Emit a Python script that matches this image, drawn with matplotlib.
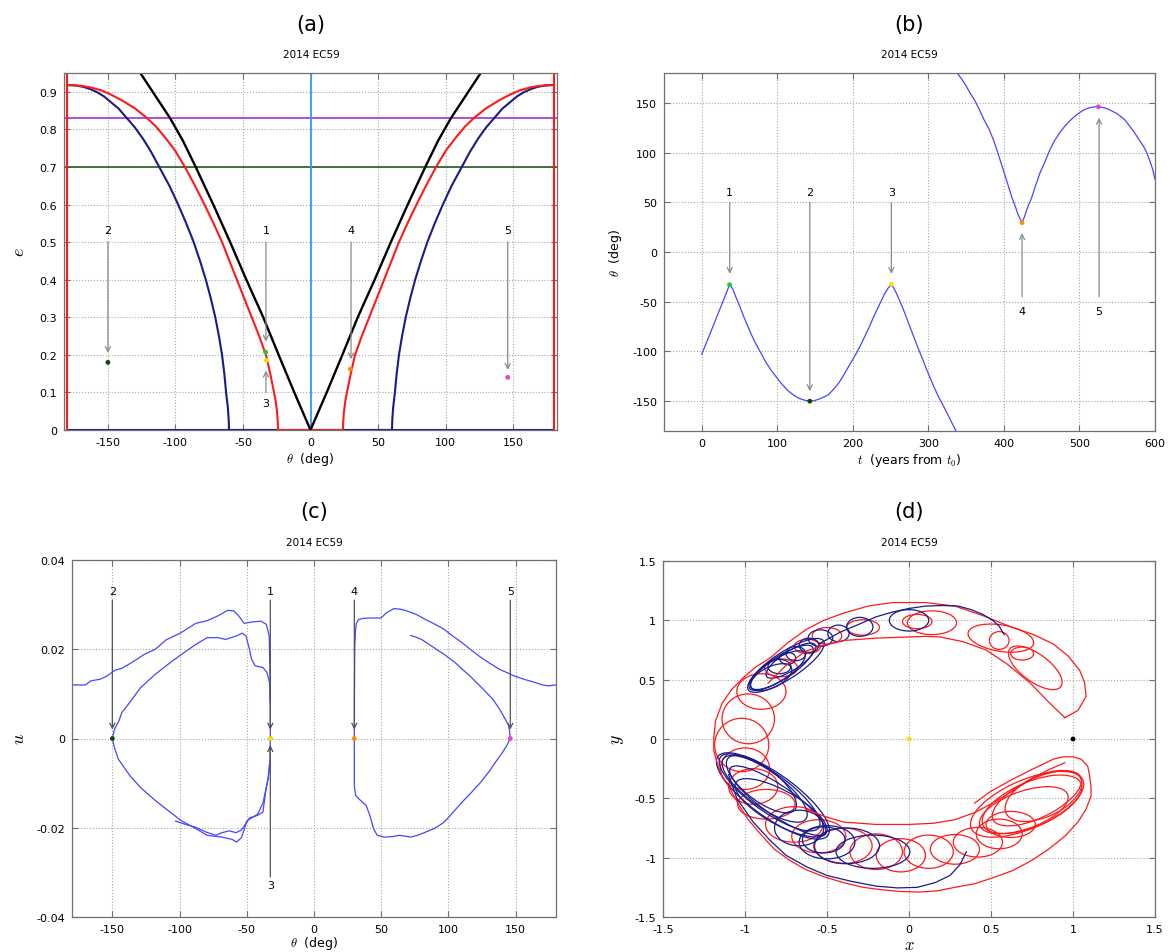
import numpy as np
import matplotlib.pyplot as plt
from matplotlib.patches import Ellipse

plt.rcParams['font.family'] = 'DejaVu Sans'
plt.rcParams['mathtext.fontset'] = 'cm'
plt.rcParams['axes.unicode_minus'] = False

# ---------------- panel (a): e vs theta (one branch, mirrored) ----------------
a_blue_th = [60.3, 60.6, 61.2, 62.5, 63.8, 65.5, 67.8, 70.5, 73.8, 77.5, 81.8, 86.5, 92, 98,
             104.5, 112, 118, 124, 130, 136, 142, 148, 153, 158, 163, 168, 174, 180]
a_blue_e = [0.0, 0.03, 0.06, 0.1, 0.15, 0.2, 0.25, 0.3, 0.35, 0.4, 0.45, 0.5, 0.55, 0.6, 0.65,
            0.7, 0.74, 0.775, 0.805, 0.83, 0.855, 0.873, 0.888, 0.899, 0.907, 0.913, 0.917, 0.918]
a_red_th = [24, 24.2, 24.8, 25.7, 27, 29.8, 33, 38, 43.5, 49, 54.5, 60, 65.5, 71.8, 78.5, 85.5,
            93, 100.5, 108, 114.5, 121, 130, 140, 148, 155, 162, 168, 174, 180]
a_red_e = [0.0, 0.02, 0.05, 0.075, 0.1, 0.15, 0.2, 0.25, 0.3, 0.35, 0.4, 0.45, 0.5, 0.55, 0.6,
           0.65, 0.7, 0.745, 0.78, 0.808, 0.83, 0.856, 0.878, 0.893, 0.904, 0.911, 0.915, 0.917,
           0.918]
a_black_th = [0, 12, 23.6, 35, 47.5, 59.5, 72, 85, 94.5, 104, 115, 126]
a_black_e = [0.0, 0.1, 0.2, 0.3, 0.4, 0.5, 0.6, 0.7, 0.77, 0.83, 0.89, 0.95]
a_hlines = [0.83, 0.70]

pt_labels = ['1', '2', '3', '4', '5']
pt_colors = ['#22cc22', '#0a4a0a', '#f5e000', '#ff8c00', '#ee44cc']
a_pts_th = [-33.2, -150, -32.7, 29.5, 146]
a_pts_e = [0.207, 0.18, 0.185, 0.162, 0.14]

# ---------------- panel (b): theta vs t ----------------
b_t1 = [0, 10, 20, 30, 36.8, 41, 45, 50, 55, 60, 65, 70, 75, 80, 85, 91, 98, 104, 110, 115, 120,
        125, 130, 136, 142.6, 149, 155, 161, 167.5, 172, 177, 182, 187, 193, 200, 206, 212, 217,
        222, 227, 232, 237, 242, 247, 251, 254, 258, 262, 267, 272, 277, 282, 287, 292, 297, 302,
        307, 313, 320, 328, 336.5]
b_th1 = [-102.7, -84, -65, -46, -32.9, -37, -45, -54, -64, -73, -82, -90, -97, -104, -111, -118,
         -125, -131, -136, -140, -143, -145.5, -147.5, -149, -150, -149.5, -148, -146, -143.6,
         -140, -136, -131, -125, -117, -108, -100, -91, -83, -75, -66, -58, -50, -42, -36, -32.5,
         -36, -42, -49, -58, -68, -78, -88, -98, -107, -117, -126, -135, -145, -155, -167, -180]
b_t2 = [338, 344, 350, 355, 361, 367, 373, 380, 386, 391, 396, 401, 406, 410, 415, 419, 424, 427,
        430, 433, 436, 442, 448, 455, 461, 467, 474, 480, 486, 493, 500, 506, 513, 520, 526, 533,
        540, 545, 550, 555, 560, 566, 572, 578, 585, 589, 593, 597, 600]
b_th2 = [180, 174, 167, 160, 153, 144, 134, 124, 113, 102, 90, 78, 66, 56, 46, 37, 29.5, 35, 42,
         48, 53, 67, 80, 92, 103, 112, 120, 126, 131, 136, 140, 143, 145, 146, 146, 145, 143, 141,
         139, 136, 133, 127, 121, 114, 106, 100, 92, 83, 73]
b_pts_t = [36.8, 143, 251, 424, 525]
b_pts_th = [-32.9, -150, -32.5, 29.5, 146]

# ---------------- panel (c): u vs theta ----------------
c_segs = [
    ([-180, -170, -166, -159, -154, -148, -143, -134.6, -126, -118, -110, -99, -88, -79.5, -71.3,
      -64.4, -59.7, -56, -52, -46.5, -39.6, -35.5, -33.3, -32.8, -32.5, -32.5],
     [0.012, 0.012, 0.0129, 0.0133, 0.014, 0.0153, 0.0157, 0.0172, 0.0189, 0.02, 0.0221, 0.0237,
      0.0258, 0.0264, 0.0275, 0.0287, 0.0286, 0.0275, 0.0258, 0.0261, 0.0263, 0.0256, 0.023,
      0.0155, 0.008, 0.0]),
    ([-150, -148.4, -145, -143, -137, -129, -118, -107, -96, -87.8, -79.5, -71.3, -65.8, -57.5,
      -53.4, -50.6, -48, -46.5, -43.8, -38, -35, -33, -32.6],
     [0.0, 0.0021, 0.004, 0.0058, 0.0081, 0.0114, 0.0144, 0.017, 0.0194, 0.0211, 0.0226, 0.0226,
      0.0222, 0.023, 0.0236, 0.023, 0.02, 0.0178, 0.0163, 0.0159, 0.0148, 0.0125, 0.008]),
    ([-150, -148.5, -145.6, -137, -129, -118, -107, -98.8, -87.8, -79.5, -68.5, -61, -57.5, -54,
      -52, -50, -46, -42, -38, -36, -34, -32.8, -32.5],
     [0.0, -0.002, -0.0046, -0.0083, -0.011, -0.0139, -0.0165, -0.0184, -0.0202, -0.0217, -0.0221,
      -0.0226, -0.0232, -0.0222, -0.0205, -0.0185, -0.0177, -0.0172, -0.0165, -0.012, -0.0085,
      -0.005, 0.0]),
    ([-103, -96, -88, -80, -73, -68.5, -63, -58, -54, -51, -48, -45, -42, -38, -35.5, -34, -33],
     [-0.0185, -0.0192, -0.0199, -0.021, -0.0217, -0.0211, -0.0207, -0.0211, -0.0205, -0.0192,
      -0.0178, -0.0175, -0.017, -0.0145, -0.011, -0.009, -0.006]),
    ([30, 30.1, 30.3, 30.8, 31.5, 33, 36, 41.6, 49.8, 54, 59.4, 64, 69, 76, 82.8, 90, 96.6, 103,
      110, 117, 124, 131, 138, 144, 149, 157, 164, 170, 174, 180],
     [0.0, 0.01, 0.02, 0.024, 0.0258, 0.0266, 0.0269, 0.027, 0.027, 0.0282, 0.0291, 0.029,
      0.0286, 0.0278, 0.0267, 0.0256, 0.0245, 0.023, 0.0215, 0.0198, 0.0182, 0.0168, 0.0155,
      0.0147, 0.014, 0.0132, 0.0126, 0.012, 0.0118, 0.012]),
    ([30, 30, 31, 34.7, 38.8, 41.6, 44.3, 47, 52.6, 58, 63.6, 68, 71.8, 77, 82.8, 90, 96.6, 103,
      110, 117, 124, 130, 135, 140, 143.4, 146],
     [0.0, -0.0106, -0.0128, -0.0139, -0.015, -0.0173, -0.0202, -0.0217, -0.0221, -0.022,
      -0.0217, -0.0219, -0.0221, -0.0217, -0.021, -0.0201, -0.0188, -0.0167, -0.0143, -0.0121,
      -0.0098, -0.0075, -0.0053, -0.0032, -0.0016, 0.0]),
    ([146, 145.5, 144.8, 141, 138, 133, 127, 121, 116, 110, 105, 98, 91, 85, 80, 76, 72],
     [0.0, 0.0015, 0.0029, 0.005, 0.0066, 0.0088, 0.0107, 0.0125, 0.014, 0.0156, 0.017, 0.0186,
      0.02, 0.0212, 0.0222, 0.0227, 0.0231]),
]
c_pts_th = [-32.5, -150, -32.5, 30, 146]

# ---------------- panel (d): x vs y (rotating frame) ----------------
# loops: centre x, centre y, width, height, tilt (deg)
d_navy_loops = [
    (0.0, 1.0, 0.24, 0.18, 0), (-0.30, 0.945, 0.16, 0.16, 0), (-0.43, 0.89, 0.13, 0.14, 0),
    (-0.54, 0.85, 0.15, 0.14, 0), (-0.61, 0.79, 0.12, 0.12, 0), (-0.69, 0.72, 0.12, 0.12, 0),
    (-0.74, 0.68, 0.10, 0.10, 0), (-0.79, 0.61, 0.14, 0.12, 0),
    (-0.75, 0.62, 0.62, 0.20, 44), (-0.78, 0.60, 0.52, 0.17, 44), (-0.80, 0.58, 0.44, 0.16, 44),
    (-0.72, 0.66, 0.40, 0.14, 44), (-0.84, 0.52, 0.30, 0.16, 40),
    (-0.83, -0.48, 0.95, 0.32, -47), (-0.85, -0.45, 0.85, 0.28, -47), (-0.88, -0.42, 0.72, 0.26, -48),
    (-0.90, -0.38, 0.60, 0.24, -50), (-0.80, -0.52, 0.80, 0.22, -45), (-0.78, -0.58, 0.70, 0.26, -40),
    (-0.67, -0.75, 0.30, 0.30, 0), (-0.50, -0.87, 0.34, 0.28, 0), (-0.52, -0.85, 0.26, 0.22, 0),
    (-0.38, -0.90, 0.40, 0.30, 0), (-0.22, -0.95, 0.45, 0.28, 0),
]
d_red_loops = [
    (0.05, 0.99, 0.18, 0.12, 0), (0.14, 0.98, 0.30, 0.20, 0), (0.56, 0.85, 0.41, 0.22, -15),
    (0.55, 0.83, 0.12, 0.15, 0), (0.69, 0.72, 0.14, 0.11, 0), (0.77, 0.60, 0.45, 0.20, -50),
    (-0.78, 0.60, 0.20, 0.15, 0), (-0.50, 0.87, 0.18, 0.14, 0), (-0.28, 0.94, 0.20, 0.13, 0),
    (-0.62, 0.78, 0.16, 0.12, 0),
    (-0.90, 0.40, 0.30, 0.30, 0), (-0.98, 0.17, 0.32, 0.42, 0), (-1.02, -0.05, 0.33, 0.45, 0),
    (-1.00, -0.25, 0.30, 0.35, 0), (-0.95, -0.40, 0.30, 0.30, 0), (-0.87, -0.55, 0.35, 0.25, 0),
    (-0.70, -0.72, 0.35, 0.30, 0), (-0.55, -0.82, 0.33, 0.28, 0), (-0.40, -0.90, 0.35, 0.30, 0),
    (-0.20, -0.95, 0.32, 0.30, 0), (-0.05, -0.98, 0.30, 0.28, 0), (0.12, -0.95, 0.30, 0.28, 0),
    (0.28, -0.93, 0.30, 0.25, 0), (0.42, -0.87, 0.30, 0.25, 0), (0.55, -0.80, 0.28, 0.25, 0),
    (0.62, -0.72, 0.30, 0.22, 0),
    (0.72, -0.55, 0.80, 0.38, 35), (0.75, -0.55, 0.70, 0.35, 35), (0.78, -0.50, 0.65, 0.30, 38),
    (0.70, -0.60, 0.60, 0.30, 30), (0.82, -0.48, 0.55, 0.32, 40),
]
d_red_outer_x = [0.95, 1.03, 1.08, 1.07, 1.04, 0.97, 0.88, 0.76, 0.63, 0.45, 0.28, 0.1, -0.1,
                 -0.25, -0.4, -0.52, -0.63, -0.74, -0.84, -0.93, -1.0, -1.08, -1.14, -1.18, -1.19,
                 -1.19, -1.17, -1.14, -1.09, -1.04, -0.98, -0.9, -0.82, -0.73, -0.63, -0.52, -0.4,
                 -0.28, -0.17, -0.05, 0.06, 0.17, 0.28, 0.4, 0.51, 0.63, 0.74, 0.85, 0.95, 1.03,
                 1.08, 1.11, 1.11, 1.1, 1.09, 1.05, 1.0, 0.94, 0.88, 0.76, 0.63, 0.5, 0.4]
d_red_outer_y = [0.18, 0.24, 0.36, 0.48, 0.58, 0.7, 0.8, 0.88, 0.94, 1.04, 1.12, 1.15, 1.15, 1.12,
                 1.06, 1.0, 0.92, 0.81, 0.69, 0.61, 0.53, 0.42, 0.3, 0.15, 0.02, -0.1, -0.2,
                 -0.31, -0.42, -0.55, -0.68, -0.81, -0.93, -1.02, -1.1, -1.16, -1.21, -1.25,
                 -1.27, -1.285, -1.29, -1.28, -1.25, -1.22, -1.17, -1.11, -1.03, -0.93, -0.82,
                 -0.7, -0.59, -0.48, -0.4, -0.3, -0.23, -0.17, -0.15, -0.15, -0.17, -0.25, -0.34,
                 -0.44, -0.54]
d_red_inner_x = [0.95, 0.86, 0.74, 0.6, 0.47, 0.33, 0.19, 0.1, 0.0, -0.2, -0.4, -0.52, -0.63,
                 -0.75, -0.86]
d_red_inner_y = [0.18, 0.3, 0.47, 0.63, 0.75, 0.82, 0.86, 0.865, 0.86, 0.85, 0.83, 0.79, 0.74,
                 0.62, 0.47]
d_red_low_x = [-0.63, -0.52, -0.4, -0.2, 0.0, 0.15, 0.28, 0.4, 0.51, 0.63, 0.74, 0.85, 0.95]
d_red_low_y = [-0.59, -0.65, -0.7, -0.72, -0.72, -0.71, -0.68, -0.62, -0.54, -0.44, -0.34,
               -0.26, -0.2]
d_navy_top_x = [-0.55, -0.42, -0.3, -0.2, -0.1, 0.0, 0.1, 0.2, 0.3, 0.38, 0.45, 0.51, 0.55, 0.58]
d_navy_top_y = [0.8, 0.9, 0.97, 1.03, 1.07, 1.1, 1.12, 1.125, 1.12, 1.09, 1.05, 1.0, 0.95, 0.88]
d_navy_bot_x = [-1.1, -1.05, -0.95, -0.85, -0.75, -0.62, -0.5, -0.35, -0.2, -0.07, 0.05, 0.16,
                0.25, 0.31, 0.35]
d_navy_bot_y = [-0.3, -0.5, -0.7, -0.85, -0.98, -1.08, -1.15, -1.2, -1.24, -1.255, -1.25, -1.21,
                -1.15, -1.06, -0.95]

NAVY = '#1a1a8c'
RED = '#ff1a1a'
LBLUE = '#4646ff'

fig = plt.figure(figsize=(11.69, 9.53), dpi=100)
W, H = 1169.0, 953.0


def make_ax(l, r, t, b):
    ax = fig.add_axes([l / W, 1 - b / H, (r - l) / W, (b - t) / H])
    ax.grid(True, linestyle=':', color='#a8a8a8', lw=0.8)
    ax.set_axisbelow(True)
    ax.tick_params(direction='in', top=True, right=True, length=4, width=0.8,
                   color='#707070', labelsize=8, pad=5)
    for s in ax.spines.values():
        s.set_color('#707070')
        s.set_linewidth(0.9)
    return ax


def arrow(ax, x, y0, y1, col='#8a8a8a'):
    ax.annotate('', xy=(x, y1), xytext=(x, y0),
                arrowprops=dict(arrowstyle='->', color=col, lw=0.9, shrinkA=0, shrinkB=0,
                                mutation_scale=9))


for lab, cx, ty in [('(a)', 311, 25), ('(b)', 909, 25), ('(c)', 314, 512), ('(d)', 909, 512)]:
    fig.text(cx / W, 1 - ty / H, lab, ha='center', va='center', fontsize=15)
for cx, ty in [(311, 55), (909, 55), (314, 543), (909, 543)]:
    fig.text(cx / W, 1 - ty / H, '2014 EC59', ha='center', va='center', fontsize=7.5)

# ---- (a)
ax = make_ax(64, 557, 74, 431)
for h, c in zip(a_hlines, ['#9933dd', '#1e5e1e']):
    ax.axhline(h, color=c, lw=1.2)
ax.axvline(0, color='#3399ff', lw=1.3)
ax.plot([-180, 180], [0, 0], color=NAVY, lw=1.5)
bt = np.array(a_blue_th)
ax.plot(np.concatenate([-bt[::-1], bt]), np.concatenate([a_blue_e[::-1], a_blue_e]), color=NAVY, lw=1.5)
rt = np.array(a_red_th)
ax.plot(-rt, a_red_e, color=RED, lw=1.5)
ax.plot(rt, a_red_e, color=RED, lw=1.5)
ax.plot([-24, 24], [0, 0], color=RED, lw=1.5)
ax.plot([-180, -180], [0, 0.95], color=RED, lw=1.5)
ax.plot([180, 180], [0, 0.95], color=RED, lw=1.5)
kt = np.array(a_black_th)
ax.plot(np.concatenate([-kt[::-1], kt]), np.concatenate([a_black_e[::-1], a_black_e]), color='black', lw=1.7)
ax.scatter(a_pts_th, a_pts_e, s=12, c=pt_colors, zorder=5, linewidths=0)
for lab, x, y0, y1, ty in [('2', -150, 0.50, 0.205, 0.532), ('1', -33, 0.50, 0.235, 0.532),
                           ('4', 30, 0.50, 0.188, 0.532), ('5', 146, 0.50, 0.16, 0.532),
                           ('3', -33, 0.10, 0.158, 0.072)]:
    arrow(ax, x, y0, y1)
    ax.text(x, ty, lab, ha='center', va='center', fontsize=8)
ax.set_xlim(-182.5, 182.5)
ax.set_ylim(0, 0.95)
ax.set_xticks([-150, -100, -50, 0, 50, 100, 150])
ax.set_xticklabels(['-150', '-100', '-50', '0', '50', '100', '150'])
ax.set_yticks(np.arange(0, 0.95, 0.1))
ax.set_yticklabels(['0'] + ['%.1f' % v for v in np.arange(0.1, 0.95, 0.1)])
ax.set_xlabel(r'$\theta$  (deg)', fontsize=9, labelpad=2)
ax.set_ylabel(r'$e$', fontsize=13, labelpad=8)

# ---- (b)
ax = make_ax(664, 1155, 74, 432)
ax.plot(b_t1, b_th1, color=LBLUE, lw=0.9)
ax.plot(b_t2, b_th2, color=LBLUE, lw=0.9)
ax.scatter(b_pts_t, b_pts_th, s=12, c=pt_colors, zorder=5, linewidths=0)
for lab, x, y0, y1, ty in [('1', 37, 50, -22, 60), ('2', 143, 50, -140, 60), ('3', 251, 50, -22, 60),
                           ('4', 424, -45, 19, -59), ('5', 526, -45, 135, -59)]:
    arrow(ax, x, y0, y1)
    ax.text(x, ty, lab, ha='center', va='center', fontsize=8)
ax.set_xlim(-50, 600)
ax.set_ylim(-180, 180)
ax.set_xticks(range(0, 601, 100))
ax.set_yticks(range(-150, 151, 50))
ax.set_yticklabels([str(v) for v in range(-150, 151, 50)])
ax.set_xlabel(r'$t$  (years from $t_0$)', fontsize=9, labelpad=2)
ax.set_ylabel(r'$\theta$  (deg)', fontsize=9, labelpad=6)

# ---- (c)
ax = make_ax(72, 556, 561, 918)
for th, u in c_segs:
    ax.plot(th, u, color=LBLUE, lw=0.9)
ax.scatter(c_pts_th, [0] * 5, s=12, c=pt_colors, zorder=5, linewidths=0)
for lab, x in [('2', -150), ('1', -32.5), ('4', 30), ('5', 146)]:
    arrow(ax, x, 0.031, 0.002, col='#505050')
    ax.text(x, 0.033, lab, ha='center', va='center', fontsize=8)
arrow(ax, -32.5, -0.031, -0.0015, col='#505050')
ax.text(-32.5, -0.0328, '3', ha='center', va='center', fontsize=8)
ax.set_xlim(-180, 180)
ax.set_ylim(-0.04, 0.04)
ax.set_xticks([-150, -100, -50, 0, 50, 100, 150])
ax.set_xticklabels(['-150', '-100', '-50', '0', '50', '100', '150'])
ax.set_yticks([-0.04, -0.02, 0, 0.02, 0.04])
ax.set_yticklabels(['-0.04', '-0.02', '0', '0.02', '0.04'])
ax.set_xlabel(r'$\theta$  (deg)', fontsize=9, labelpad=0)
ax.set_ylabel(r'$u$', fontsize=13, labelpad=6)

# ---- (d)
ax = make_ax(663, 1155, 562, 918)
for cx, cy, w, h, a in d_red_loops:
    ax.add_patch(Ellipse((cx, cy), w, h, angle=a, fill=False, ec=RED, lw=0.9))
ax.plot(d_red_outer_x, d_red_outer_y, color=RED, lw=0.9)
ax.plot(d_red_inner_x, d_red_inner_y, color=RED, lw=0.9)
ax.plot(d_red_low_x, d_red_low_y, color=RED, lw=0.9)
for cx, cy, w, h, a in d_navy_loops:
    ax.add_patch(Ellipse((cx, cy), w, h, angle=a, fill=False, ec=NAVY, lw=0.9))
ax.plot(d_navy_top_x, d_navy_top_y, color=NAVY, lw=0.9)
ax.plot(d_navy_bot_x, d_navy_bot_y, color=NAVY, lw=0.9)
ax.scatter([0, 1], [0, 0], s=12, c=['#f5e000', 'black'], zorder=5, linewidths=0)
ax.set_xlim(-1.5, 1.5)
ax.set_ylim(-1.5, 1.5)
ticks = [-1.5, -1, -0.5, 0, 0.5, 1, 1.5]
tl = ['-1.5', '-1', '-0.5', '0', '0.5', '1', '1.5']
ax.set_xticks(ticks)
ax.set_xticklabels(tl)
ax.set_yticks(ticks)
ax.set_yticklabels(tl)
ax.set_xlabel(r'$x$', fontsize=12, labelpad=1)
ax.set_ylabel(r'$y$', fontsize=13, labelpad=6)

fig.savefig('out.png', dpi=100)
